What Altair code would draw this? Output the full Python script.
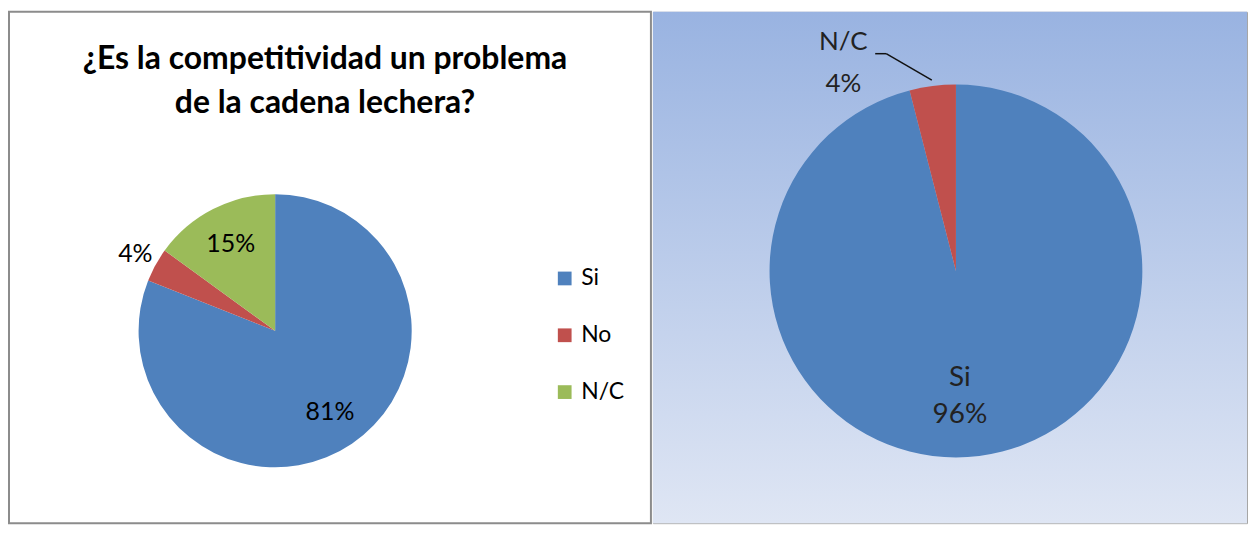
import math
import altair as alt
import pandas as pd

# ---- data ----
left_cats = ["Si", "No", "N/C"]
left_vals = [81, 4, 15]
left_colors = ["#4F81BD", "#C0504D", "#9BBB59"]
title_lines = ["¿Es la competitividad un problema", "de la cadena lechera?"]

right_cats = ["Si", "N/C"]
right_vals = [96, 4]
right_colors = ["#4F81BD", "#C0504D"]

FONT = "Lato"

# ---- layout ----
LW, RW, H = 644, 596, 513
LCX, LCY, LR = 267, 320, 137
RCX, RCY, RR = 304, 260, 187

# ---------- left panel ----------
ldf = pd.DataFrame({"cat": left_cats, "v": left_vals, "o": list(range(len(left_cats)))})
ldf["label"] = [f"{v}%" for v in left_vals]
ltot = sum(left_vals)

lcolor = alt.Color(
    "cat:N",
    sort=left_cats,
    scale=alt.Scale(domain=left_cats, range=left_colors),
    legend=alt.Legend(
        title=None, orient="none", legendX=546, legendY=256,
        symbolType="square", symbolSize=190, symbolStrokeWidth=0,
        labelFont=FONT, labelFontSize=23, labelColor="#000000",
        labelOffset=5, rowPadding=33,
    ),
)

larc = alt.Chart(ldf).mark_arc(outerRadius=LR).encode(
    theta=alt.Theta("v:Q", stack=True),
    order=alt.Order("o:Q"),
    color=lcolor, x=alt.value(LCX), y=alt.value(LCY),
)
ltext = alt.Chart(ldf).transform_window(
    cum="sum(v)", sort=[alt.SortField("o")]
).transform_calculate(
    mid="datum.cum - datum.v / 2",
    lr="datum.v < 10 ? 160 : 98",
).mark_text(font=FONT, fontSize=25, color="#000000", baseline="middle").encode(
    theta=alt.Theta("mid:Q", scale=alt.Scale(domain=[0, ltot])),
    radius=alt.Radius("lr:Q", scale=None),
    text="label:N",
    x=alt.value(LCX), y=alt.value(LCY),
)
ltitle = alt.Chart(pd.DataFrame({"a": [0]})).mark_text(
    text=title_lines, font=FONT, fontSize=32, fontWeight="bold",
    color="#000000", lineHeight=45, baseline="middle", align="center",
).encode(x=alt.value(317), y=alt.value(47))

left = alt.layer(larc, ltext, ltitle).resolve_scale(theta="independent").properties(
    width=LW, height=H,
    view=alt.ViewBackground(fill="#FFFFFF", stroke="#8C8C8C", strokeWidth=2),
)

# ---------- right panel ----------
rdf = pd.DataFrame({"cat": right_cats, "v": right_vals, "o": list(range(len(right_cats)))})
rdf["label"] = [f"{c}\n{v}%" for c, v in zip(right_cats, right_vals)]

bg = alt.Chart(pd.DataFrame({"a": [0]})).mark_rect(
    color=alt.LinearGradient(
        gradient="linear",
        stops=[alt.GradientStop(color="#99B3E1", offset=0),
               alt.GradientStop(color="#DFE6F4", offset=1)],
        x1=0, x2=0, y1=0, y2=1,
    )
).encode(x=alt.value(0), x2=alt.value(RW), y=alt.value(0), y2=alt.value(H))

rarc = alt.Chart(rdf).mark_arc(outerRadius=RR).encode(
    theta=alt.Theta("v:Q", stack=True),
    order=alt.Order("o:Q"),
    color=alt.Color("cat:N", sort=right_cats,
                    scale=alt.Scale(domain=right_cats, range=right_colors),
                    legend=None),
    x=alt.value(RCX), y=alt.value(RCY),
)
rsi = alt.Chart(rdf).transform_filter(alt.datum.cat == "Si").mark_text(
    font=FONT, fontSize=28, color="#222222", lineBreak="\n", lineHeight=38,
    baseline="middle", dx=4, dy=-18,
).encode(
    text="label:N", x=alt.value(RCX), y=alt.value(RCY + 125)
)
rnc = alt.Chart(rdf).transform_filter(alt.datum.cat == "N/C").mark_text(
    font=FONT, fontSize=26, color="#222222", lineBreak="\n", lineHeight=42,
    baseline="middle",
).encode(text="label:N", x=alt.value(191), y=alt.value(30))

# leader line end point: on the N/C slice mid-angle, just outside the rim
tot = sum(right_vals)
mid = (sum(right_vals[:-1]) + right_vals[-1] / 2) / tot * 2 * math.pi
ex, ey = RCX + (RR + 6) * math.sin(mid), RCY - (RR + 6) * math.cos(mid)
elbow_x, elbow_y = 234, 42
seg1 = alt.Chart(pd.DataFrame({"a": [0]})).mark_rule(color="#111111", strokeWidth=1.5).encode(
    x=alt.value(223), x2=alt.value(elbow_x), y=alt.value(elbow_y), y2=alt.value(elbow_y)
)
seg2 = alt.Chart(pd.DataFrame({"a": [0]})).mark_rule(color="#111111", strokeWidth=1.5).encode(
    x=alt.value(elbow_x), x2=alt.value(ex), y=alt.value(elbow_y), y2=alt.value(ey)
)

right = alt.layer(bg, rarc, rsi, rnc, seg1, seg2).properties(
    width=RW, height=H,
    view=alt.ViewBackground(stroke="#A6A6A6", strokeWidth=1),
)

chart = alt.hconcat(left, right, spacing=0).resolve_scale(
    color="independent", theta="independent"
).properties(
    padding={"top": 2, "left": 0, "right": 0, "bottom": 0},
    background="#FFFFFF",
)

chart.save("out.html", embed_options={"renderer": "svg", "actions": False})
